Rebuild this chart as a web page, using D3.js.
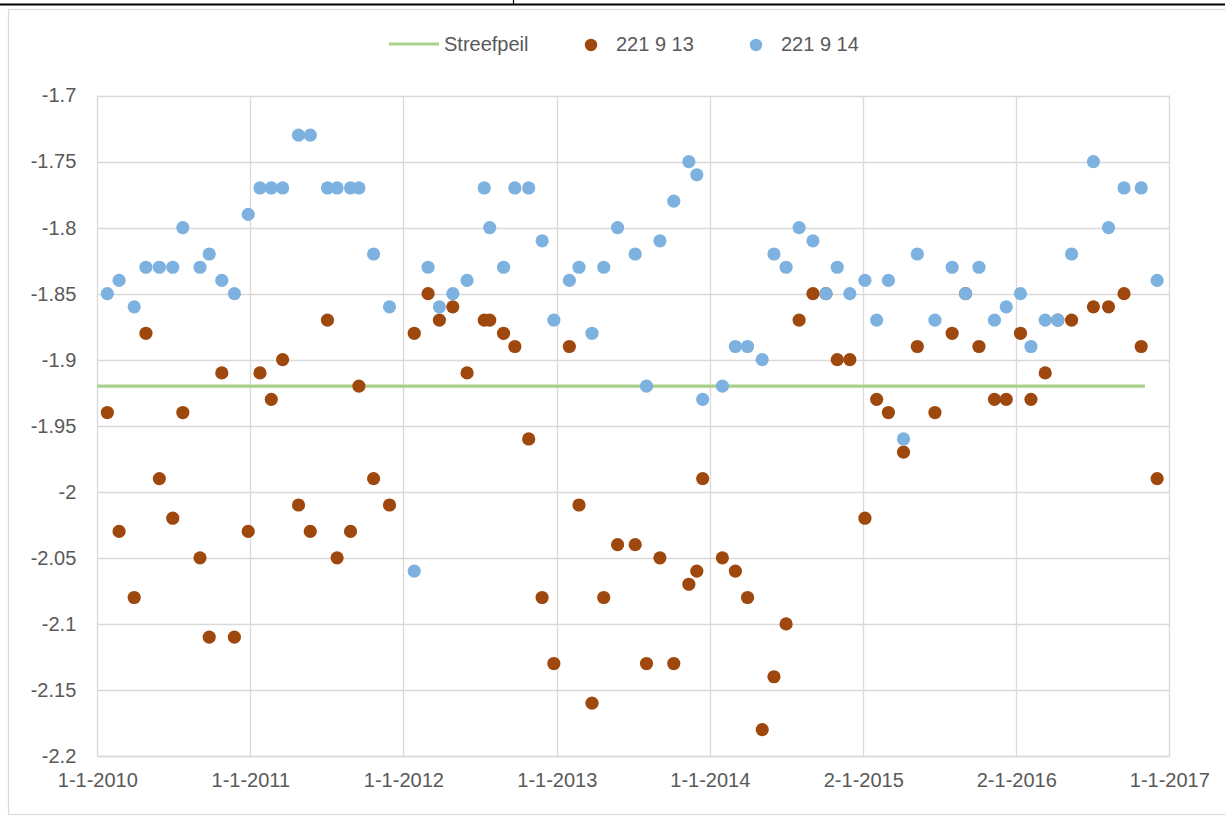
<!DOCTYPE html>
<html>
<head>
<meta charset="utf-8">
<script src="https://cdn.jsdelivr.net/npm/d3@7"></script>
<style>
  html, body { margin: 0; padding: 0; background: #ffffff; }
  svg { display: block; }
  text { font-family: "Liberation Sans", Arial, sans-serif; fill: #595959; }
</style>
</head>
<body>
<svg id="chart" width="1225" height="816"></svg>
<script>
// ---------------- data ----------------
const dates = [
  "2010-01-25","2010-02-22","2010-03-30","2010-04-27","2010-05-29","2010-06-30","2010-07-24","2010-09-03","2010-09-25","2010-10-25","2010-11-24","2010-12-27",
  "2011-01-24","2011-02-20","2011-03-19","2011-04-26","2011-05-24","2011-07-04","2011-07-27","2011-08-28","2011-09-17","2011-10-22","2011-11-29",
  "2012-01-27","2012-02-29","2012-03-27","2012-04-28","2012-06-01","2012-07-12","2012-07-25","2012-08-27","2012-09-23","2012-10-26","2012-11-27","2012-12-25",
  "2013-01-31","2013-02-23","2013-03-26","2013-04-23","2013-05-26","2013-07-07","2013-08-03","2013-09-04","2013-10-07","2013-11-12","2013-12-01","2013-12-15",
  "2014-01-31","2014-03-03","2014-04-01","2014-05-06","2014-06-03","2014-07-02","2014-08-02","2014-09-04","2014-10-05","2014-11-01","2014-12-01",
  "2015-01-06","2015-02-03","2015-03-03","2015-04-08","2015-05-11","2015-06-22","2015-08-02","2015-09-03","2015-10-05","2015-11-11","2015-12-09",
  "2016-01-12","2016-02-06","2016-03-11","2016-04-10","2016-05-13","2016-07-04","2016-08-09","2016-09-15","2016-10-26","2016-12-03"
];

const series13 = [
  -1.94,-2.03,-2.08,-1.88,-1.99,-2.02,-1.94,-2.05,-2.11,-1.91,-2.11,-2.03,
  -1.91,-1.93,-1.90,-2.01,-2.03,-1.87,-2.05,-2.03,-1.92,-1.99,-2.01,
  -1.88,-1.85,-1.87,-1.86,-1.91,-1.87,-1.87,-1.88,-1.89,-1.96,-2.08,-2.13,
  -1.89,-2.01,-2.16,-2.08,-2.04,-2.04,-2.13,-2.05,-2.13,-2.07,-2.06,-1.99,
  -2.05,-2.06,-2.08,-2.18,-2.14,-2.10,-1.87,-1.85,-1.85,-1.90,-1.90,
  -2.02,-1.93,-1.94,-1.97,-1.89,-1.94,-1.88,-1.85,-1.89,-1.93,-1.93,
  -1.88,-1.93,-1.91,-1.87,-1.87,-1.86,-1.86,-1.85,-1.89,-1.99
];

const series14 = [
  -1.85,-1.84,-1.86,-1.83,-1.83,-1.83,-1.80,-1.83,-1.82,-1.84,-1.85,-1.79,
  -1.77,-1.77,-1.77,-1.73,-1.73,-1.77,-1.77,-1.77,-1.77,-1.82,-1.86,
  -2.06,-1.83,-1.86,-1.85,-1.84,-1.77,-1.80,-1.83,-1.77,-1.77,-1.81,-1.87,
  -1.84,-1.83,-1.88,-1.83,-1.80,-1.82,-1.92,-1.81,-1.78,-1.75,-1.76,-1.93,
  -1.92,-1.89,-1.89,-1.90,-1.82,-1.83,-1.80,-1.81,-1.85,-1.83,-1.85,
  -1.84,-1.87,-1.84,-1.96,-1.82,-1.87,-1.83,-1.85,-1.83,-1.87,-1.86,
  -1.85,-1.89,-1.87,-1.87,-1.82,-1.75,-1.80,-1.77,-1.77,-1.84
];

const streefDates  = ["2010-01-01", "2016-11-04"];
const streefValues = [-1.92, -1.92];

const seriesNames = ["Streefpeil", "221 9 13", "221 9 14"];

const xTickDates  = ["2010-01-01","2011-01-01","2012-01-01","2013-01-01","2014-01-01","2015-01-02","2016-01-02","2017-01-01"];
const xTickLabels = ["1-1-2010","1-1-2011","1-1-2012","1-1-2013","1-1-2014","2-1-2015","2-1-2016","1-1-2017"];
const yTicks      = [-1.7,-1.75,-1.8,-1.85,-1.9,-1.95,-2,-2.05,-2.1,-2.15,-2.2];

// ---------------- layout ----------------
const W = 1225, H = 816;
const plot = { left: 97.3, right: 1169.3, top: 95.5, bottom: 756 };
const colors = { streef: "#A9D18E", s13: "#9E480E", s14: "#7DB2E0", grid: "#D9D9D9" };
const R = 6.6;

const parse = d3.utcParse("%Y-%m-%d");
const svg = d3.select("#chart");

// spreadsheet remnants & chart frame
svg.append("line").attr("x1", 0).attr("x2", W).attr("y1", 4.5).attr("y2", 4.5)
  .attr("stroke", "#000").attr("stroke-width", 2.2);
svg.append("line").attr("x1", 513.5).attr("x2", 513.5).attr("y1", 0).attr("y2", 4)
  .attr("stroke", "#000").attr("stroke-width", 1.2);
svg.append("rect").attr("x", 8.5).attr("y", 9.5).attr("width", W + 10).attr("height", 805)
  .attr("fill", "#fff").attr("stroke", colors.grid).attr("stroke-width", 1.2);

const x = d3.scaleUtc()
  .domain([parse("2010-01-01"), parse("2017-01-01")])
  .range([plot.left, plot.right]);
const y = d3.scaleLinear()
  .domain([-2.2, -1.7])
  .range([plot.bottom, plot.top]);

// gridlines
const gGrid = svg.append("g");
gGrid.selectAll("line.h").data(yTicks).join("line")
  .attr("x1", plot.left).attr("x2", plot.right)
  .attr("y1", d => Math.round(y(d)) + 0.5).attr("y2", d => Math.round(y(d)) + 0.5)
  .attr("stroke", colors.grid).attr("stroke-width", 1.3);
gGrid.selectAll("line.v").data(xTickDates).join("line")
  .attr("x1", d => Math.round(x(parse(d))) + 0.5).attr("x2", d => Math.round(x(parse(d))) + 0.5)
  .attr("y1", plot.top).attr("y2", plot.bottom)
  .attr("stroke", colors.grid).attr("stroke-width", 1.3);

// axes (labels only, Excel style)
const fmtY = v => String(+v.toFixed(2));
const yAxis = d3.axisLeft(y).tickValues(yTicks).tickFormat(fmtY).tickSize(0).tickPadding(21);
const gy = svg.append("g").attr("transform", `translate(${plot.left},0)`).call(yAxis);
gy.select(".domain").remove();
gy.selectAll("text").attr("font-size", 20).attr("font-family", "Liberation Sans, Arial, sans-serif").attr("fill", "#595959");

const xAxis = d3.axisBottom(x).tickValues(xTickDates.map(parse))
  .tickFormat((d, i) => xTickLabels[i]).tickSize(0).tickPadding(17);
const gx = svg.append("g").attr("transform", `translate(0,${plot.bottom})`).call(xAxis);
gx.select(".domain").attr("stroke", colors.grid).attr("stroke-width", 1.6);
gx.selectAll("text").attr("font-size", 20).attr("font-family", "Liberation Sans, Arial, sans-serif").attr("fill", "#595959");

// Streefpeil line
const line = d3.line().x(d => x(d[0])).y(d => y(d[1]));
svg.append("path")
  .datum(streefDates.map((d, i) => [parse(d), streefValues[i]]))
  .attr("d", line).attr("fill", "none")
  .attr("stroke", colors.streef).attr("stroke-width", 3.2);

// 221 9 13
svg.append("g").selectAll("circle").data(dates.map((d, i) => [parse(d), series13[i]])).join("circle")
  .attr("cx", d => x(d[0])).attr("cy", d => y(d[1])).attr("r", R).attr("fill", colors.s13);

// 221 9 14
svg.append("g").selectAll("circle").data(dates.map((d, i) => [parse(d), series14[i]])).join("circle")
  .attr("cx", d => x(d[0])).attr("cy", d => y(d[1])).attr("r", R).attr("fill", colors.s14);

// legend
const lg = svg.append("g").attr("font-size", 20);
lg.append("line").attr("x1", 389).attr("x2", 439).attr("y1", 44).attr("y2", 44)
  .attr("stroke", colors.streef).attr("stroke-width", 3.2);
lg.append("text").attr("x", 444).attr("y", 44).attr("dy", "0.35em").text(seriesNames[0]);
lg.append("circle").attr("cx", 591).attr("cy", 45).attr("r", 6.2).attr("fill", colors.s13);
lg.append("text").attr("x", 616).attr("y", 44).attr("dy", "0.35em").text(seriesNames[1]);
lg.append("circle").attr("cx", 756).attr("cy", 45).attr("r", 6.2).attr("fill", colors.s14);
lg.append("text").attr("x", 781).attr("y", 44).attr("dy", "0.35em").text(seriesNames[2]);
</script>
</body>
</html>
